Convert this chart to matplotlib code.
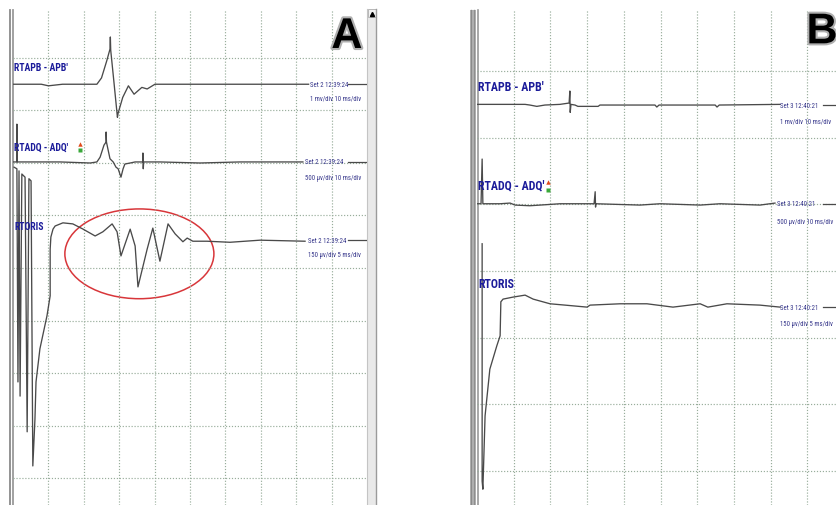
import numpy as np
import matplotlib
matplotlib.use("Agg")
import matplotlib.pyplot as plt
from matplotlib import font_manager
from matplotlib.patches import Ellipse, Rectangle
import matplotlib.patheffects as pe

## traces, in screen divisions (x = time div, y = amplitude div from top)
# panel A
A_apb_t = [0, 0.8, 1.0, 1.4, 2.37, 2.5, 2.65, 2.74, 2.75, 2.76, 2.85, 2.95, 2.97, 3.1, 3.26, 3.42, 3.64, 3.79, 4.01, 8.35]
A_apb_v = [1.50, 1.50, 1.53, 1.50, 1.50, 1.38, 1.05, 0.83, 0.60, 0.85, 1.45, 2.13, 2.05, 1.75, 1.53, 1.69, 1.56, 1.59, 1.50, 1.50]

A_adq_t = [0, 0.11, 0.11, 0.12, 1.33, 2.18, 2.37, 2.46, 2.57, 2.63, 2.63, 2.64, 2.68, 2.74, 2.83, 2.91, 2.97, 3.02,
           3.05, 3.11, 3.16, 3.31, 3.45, 3.67, 3.67, 3.68, 3.69, 4.15, 5.28, 6.41, 8.19]
A_adq_v = [2.98, 2.98, 2.26, 2.98, 2.98, 3.00, 2.98, 2.89, 2.66, 2.60, 2.41, 2.60, 2.73, 2.92, 2.98, 3.08, 3.11, 3.21,
           3.27, 3.11, 3.02, 3.00, 2.98, 2.98, 2.81, 3.11, 2.98, 2.98, 3.00, 2.98, 2.98]

A_oris_t = [0.03, 0.11, 0.14, 0.17, 0.20, 0.25, 0.34, 0.40, 0.45, 0.51, 0.56, 0.62, 0.65, 0.76, 0.96, 1.05, 1.05, 1.07,
            1.13, 1.19, 1.41, 1.69, 1.98, 2.32, 2.54, 2.80, 2.94, 3.05, 3.31, 3.45, 3.53, 3.79, 3.95, 4.15, 4.38,
            4.58, 4.80, 4.92, 5.08, 5.48, 6.13, 6.98, 8.25]
A_oris_v = [3.08, 3.11, 7.17, 3.15, 7.44, 3.21, 3.27, 8.12, 3.30, 3.34, 8.77, 7.88, 7.17, 6.54, 5.91, 5.53, 4.64, 4.41,
            4.26, 4.20, 4.14, 4.16, 4.26, 4.39, 4.31, 4.16, 4.31, 4.77, 4.26, 4.58, 5.36, 4.64, 4.24, 4.87, 4.16,
            4.35, 4.50, 4.43, 4.49, 4.49, 4.51, 4.47, 4.49]

# panel B
B_apb_t = [0, 1.31, 1.44, 1.63, 1.85, 2.26, 2.51, 2.53, 2.54, 2.56, 2.67, 2.75, 3.30, 3.35, 4.85, 4.90, 4.96, 6.49, 6.54, 6.60, 8.26]
B_apb_v = [1.50, 1.50, 1.51, 1.53, 1.51, 1.50, 1.48, 1.30, 1.62, 1.50, 1.51, 1.53, 1.53, 1.51, 1.51, 1.54, 1.51, 1.51, 1.54, 1.51, 1.50]

B_adq_t = [0, 0.11, 0.14, 0.16, 0.63, 0.90, 1.04, 1.44, 1.72, 2.26, 3.19, 3.22, 3.23, 3.24, 4.44, 4.99, 6.08, 6.62, 7.71, 8.12]
B_adq_v = [2.99, 2.99, 2.32, 2.99, 2.99, 2.98, 3.01, 3.02, 3.01, 2.99, 2.99, 2.81, 3.04, 2.99, 3.01, 2.99, 3.01, 2.99, 3.01, 2.98]

B_oris_t = [0.14, 0.14, 0.16, 0.22, 0.35, 0.54, 0.63, 0.65, 0.71, 0.98, 1.31, 1.53, 1.99, 2.40, 3.00, 3.08, 3.90,
            4.63, 5.34, 6.08, 6.29, 6.81, 7.71, 8.26]
B_oris_v = [3.59, 7.15, 7.27, 6.17, 5.47, 5.12, 4.97, 4.46, 4.42, 4.39, 4.36, 4.42, 4.49, 4.51, 4.54, 4.51, 4.49,
            4.49, 4.54, 4.49, 4.54, 4.49, 4.51, 4.54]

## labels
chan_names = ["RTAPB - APB'", "RTADQ - ADQ'", "RTORIS"]
A_stamp = "Set 2 12:39:24"
B_stamp = "Set 3 12:40:21"
scales = ["1 mv/div 10 ms/div", "500 \u00b5v/div 10 ms/div", "150 \u00b5v/div 5 ms/div"]

A_name_y = [1.17, 2.68, 4.20]
A_stamp_x = [8.39, 8.25, 8.33]
A_stamp_y = [1.50, 2.98, 4.47]
A_scale_y = [1.76, 3.27, 4.75]
A_tail = [9.47, 10.0]

B_name_y = [1.23, 2.71, 4.19]
B_stamp_x = [8.26, 8.17, 8.26]
B_stamp_y = [1.51, 2.99, 4.54]
B_scale_y = [1.75, 3.25, 4.79]
B_tail = [9.42, 9.78]

## fonts
names = {f.name for f in font_manager.fontManager.ttflist}
narrow = None
for n in ["Liberation Sans Narrow", "Roboto Condensed", "Arial Narrow"]:
    if n in names:
        narrow = n
        break
if narrow is None:
    narrow = "Liberation Sans" if "Liberation Sans" in names else "DejaVu Sans"
plt.rcParams['font.family'] = [narrow, 'DejaVu Sans']

W, H = 836, 506
TRACE = '#4a4a4a'
GRID = '#98ad9b'
NAVY = '#1c1c9a'
NAVY2 = '#35358a'

fig = plt.figure(figsize=(W / 100, H / 100), dpi=100)

# window chrome (pixel coords)
deco = fig.add_axes([0, 0, 1, 1])
deco.set_xlim(0, W)
deco.set_ylim(H, 0)
deco.axis('off')
deco.plot([9.5, 9.5], [11, H], color='#8a8a8a', lw=1.3)
deco.plot([12.5, 12.5], [11, H], color='#9a9a9a', lw=1.3)
deco.add_patch(Rectangle((367, 10), 9, H - 10, facecolor='#e9e9e9', edgecolor='none'))
deco.plot([367, 367], [10, H], color='#c4c4c4', lw=0.8)
deco.plot([376, 376], [10, H], color='#9a9a9a', lw=1.0)
deco.add_patch(Rectangle((367.5, 10), 8, 8, facecolor='#f2f2f2', edgecolor='#b0b0b0', lw=0.6))
deco.plot([371.5], [14.5], marker='^', ms=3, color='black')
deco.add_patch(Rectangle((470, 11), 6, H - 11, facecolor='#b8b8b8', edgecolor='none'))
deco.plot([470.5, 470.5], [11, H], color='#8a8a8a', lw=1.0)
deco.plot([474, 474], [11, H], color='#8e8e8e', lw=1.0)
deco.plot([477.5, 477.5], [11, H], color='#9a9a9a', lw=1.2)


def panel(rect, xmax, ymax, ytop, nx, ny):
    ax = fig.add_axes(rect)
    ax.set_facecolor('none')
    ax.set_xlim(0, xmax)
    ax.set_ylim(ymax, ytop)
    ax.set_xticks(range(1, nx))
    ax.set_yticks(range(1, ny))
    ax.tick_params(length=0, labelbottom=False, labelleft=False)
    for s in ax.spines.values():
        s.set_visible(False)
    ax.grid(True, color=GRID, linestyle=(0, (1, 1.5)), lw=0.85)
    return ax


axA = panel([13 / W, 0, 354 / W, 495 / H], 10, 9.514, 0.086, 10, 10)
axB = panel([477 / W, 0, 359 / W, 495 / H], 359 / 36.7, 7.507, 0.085, 10, 8)


def draw(ax, traces, name_y, stamp, stamp_x, stamp_y, scale_y, tail, fs_name, fs_small, icon_x):
    for t, v in traces:
        ax.plot(t, v, color=TRACE, lw=0.95, solid_joinstyle='round')
    for i in range(3):
        ax.text(0.03, name_y[i], chan_names[i], color=NAVY, fontsize=fs_name, fontweight='bold',
                ha='left', va='center')
        ax.text(stamp_x[i], stamp_y[i], stamp, color=NAVY2, fontsize=fs_small, ha='left', va='center')
        ax.text(stamp_x[i], scale_y[i], scales[i], color=NAVY2, fontsize=fs_small, ha='left', va='center')
        ax.plot(tail, [stamp_y[i], stamp_y[i]], color=TRACE, lw=0.9)
    # little arrow icon after the ADQ name
    ax.plot([icon_x], [name_y[1] - 0.05], marker='^', ms=3.2, color='#e04a1a', mec='none')
    ax.plot([icon_x], [name_y[1] + 0.08], marker='s', ms=2.2, color='#3aa83a', mec='none')


draw(axA, [(A_apb_t, A_apb_v), (A_adq_t, A_adq_v), (A_oris_t, A_oris_v)],
     A_name_y, A_stamp, A_stamp_x, A_stamp_y, A_scale_y, A_tail, 7.0, 4.9, 1.9)
draw(axB, [(B_apb_t, B_apb_v), (B_adq_t, B_adq_v), (B_oris_t, B_oris_v)],
     B_name_y, B_stamp, B_stamp_x, B_stamp_y, B_scale_y, B_tail, 8.6, 4.9, 1.93)

# highlighted response
axA.add_patch(Ellipse((3.57, 4.73), 4.21, 1.71, fill=False, edgecolor='#d8363a', lw=1.1))

# panel letters
for ax, letter, x, y in [(axA, 'A', 9.43, 0.60), (axB, 'B', 9.40, 0.42)]:
    ax.text(x, y, letter, fontsize=31, fontweight='bold', family='Liberation Sans', color='black',
            ha='center', va='center', clip_on=False,
            path_effects=[pe.withStroke(linewidth=3, foreground='#b0b0b0')])

plt.savefig("out.png", dpi=100)
